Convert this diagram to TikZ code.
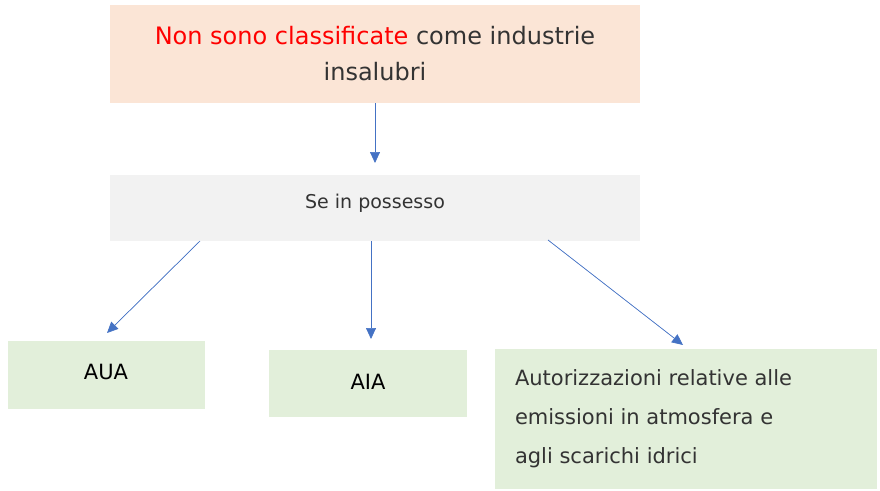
\documentclass[tikz,border=0pt]{standalone}
\usepackage{fontspec}
\setmainfont{DejaVu Sans}
\usetikzlibrary{arrows.meta}
\definecolor{peach}{HTML}{FBE5D6}
\definecolor{grayb}{HTML}{F2F2F2}
\definecolor{greenb}{HTML}{E2EFDA}
\definecolor{arr}{HTML}{4472C4}
\definecolor{txt}{HTML}{333333}
\begin{document}
\begin{tikzpicture}[x=1pt,y=-1pt,
  box/.style={inner sep=0pt,outer sep=0pt},
  con/.style={draw=arr,line width=0.7pt,-{Triangle[length=11pt,width=10pt]},fill=arr}]
\useasboundingbox (0,0) rectangle (880,490);
\fill[peach] (110,5) rectangle (640,103);
\node[box] (top) at (375,54) {};
\node[align=center,font=\fontsize{24}{36}\selectfont,text=txt] at (375,54) {\textcolor{red}{Non sono classificate} come industrie\\insalubri};
\fill[grayb] (110,175) rectangle (640,241);
\node[box,font=\fontsize{19}{24}\selectfont,text=txt] (se) at (375,203) {Se in possesso};
\fill[greenb] (8,341) rectangle (205,409);
\node[box,font=\fontsize{21}{26}\selectfont] (aua) at (106,372) {AUA};
\fill[greenb] (269,350) rectangle (467,417);
\node[box,font=\fontsize{21}{26}\selectfont] (aia) at (368,382) {AIA};
\fill[greenb] (495,349) rectangle (877,489);
\node[box,anchor=west,align=left,font=\fontsize{21}{39}\selectfont,text=txt] (aut) at (515,419) {Autorizzazioni relative alle\\emissioni in atmosfera e\\agli scarichi idrici};
\coordinate (a0) at (375,103); \coordinate (a1) at (375,163);
\coordinate (b0) at (200,241); \coordinate (b1) at (107,333);
\coordinate (c0) at (371,241); \coordinate (c1) at (371,339);
\coordinate (d0) at (548,240); \coordinate (d1) at (683,345);
\draw[con] (a0) -- (a1);
\draw[con] (b0) -- (b1);
\draw[con] (c0) -- (c1);
\draw[con] (d0) -- (d1);
\end{tikzpicture}
\end{document}
